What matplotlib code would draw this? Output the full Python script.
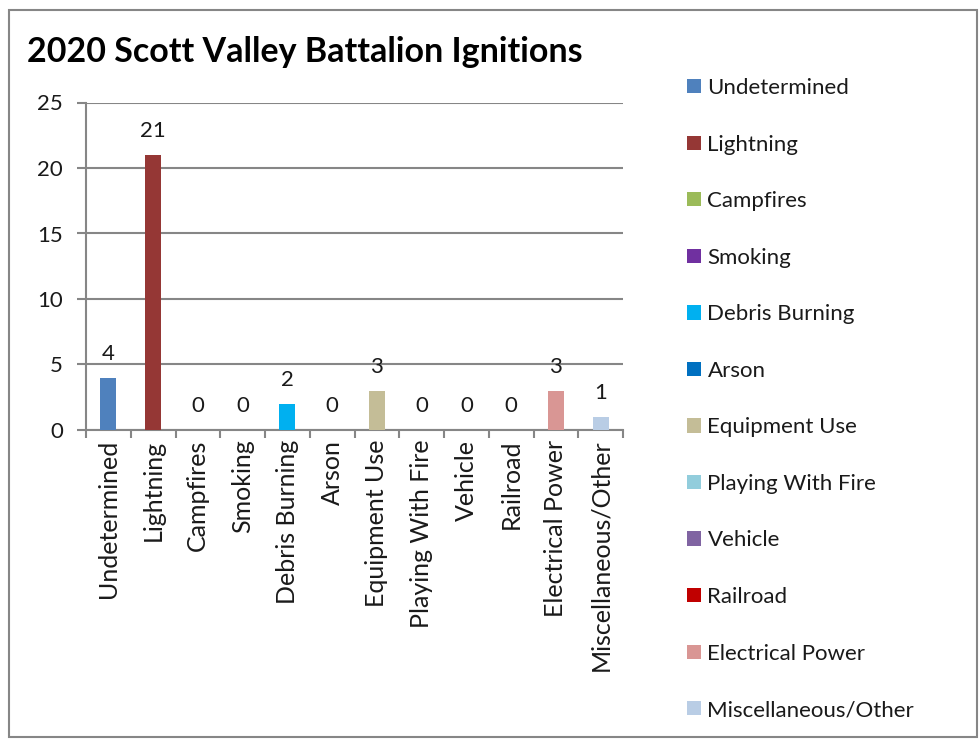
import matplotlib
matplotlib.use('Agg')
import matplotlib.pyplot as plt
from matplotlib.patches import Rectangle
import numpy as np

categories = ['Undetermined', 'Lightning', 'Campfires', 'Smoking', 'Debris Burning',
              'Arson', 'Equipment Use', 'Playing With Fire', 'Vehicle', 'Railroad',
              'Electrical Power', 'Miscellaneous/Other']
ignitions = [4, 21, 0, 0, 2, 0, 3, 0, 0, 0, 3, 1]
colors = ['#4F81BD', '#953735', '#9BBB59', '#7030A0', '#00B0F0', '#0070C0',
          '#C4BD97', '#92CDDC', '#8064A2', '#C00000', '#D99694', '#B9CDE5']
y_ticks = [0, 5, 10, 15, 20, 25]
title = '2020 Scott Valley Battalion Ignitions'

plt.rcParams['font.family'] = ['Lato', 'DejaVu Sans']
grey = '#868686'

fig = plt.figure(figsize=(9.8, 7.4), dpi=100)
# outer chart border
fig.patches.append(Rectangle((9 / 980, 3 / 740), 968 / 980, 727 / 740,
                             transform=fig.transFigure, fill=False,
                             edgecolor=grey, linewidth=1.5))

ax = fig.add_axes([86 / 980, 1 - 430 / 740, 537 / 980, 327.5 / 740])
x = np.arange(len(categories))
bars = ax.bar(x, ignitions, width=0.36, color=colors, linewidth=0, zorder=3)
ax.bar_label(bars, padding=10, fontsize=16, color='#1a1a1a')

ax.set_xlim(-0.5, len(categories) - 0.5)
ax.set_ylim(0, 25)
ax.set_yticks(y_ticks)
ax.set_xticks(x)
ax.set_xticklabels(categories, rotation=90, fontsize=18, color='#1a1a1a')
ax.set_xticks(np.arange(-0.5, len(categories)), minor=True)
ax.tick_params(axis='x', which='major', length=0, pad=7)
ax.tick_params(axis='x', which='minor', length=6, width=1.5, color=grey)
ax.tick_params(axis='y', length=6.5, width=1.5, color=grey, pad=10,
               labelsize=16, labelcolor='#1a1a1a')
ax.grid(axis='y', color=grey, linewidth=1.5, zorder=0)
for s in ['top', 'right']:
    ax.spines[s].set_visible(False)
for s in ['left', 'bottom']:
    ax.spines[s].set_color(grey)
    ax.spines[s].set_linewidth(1.5)

fig.text(27 / 980, 1 - 62 / 740, title, fontsize=24.5, fontweight='bold',
         va='baseline', ha='left', color='black')

fig.legend(bars.patches, categories, loc='upper left',
           bbox_to_anchor=(687 / 980, 1 - 78 / 740), frameon=False,
           fontsize=16, handlelength=0.62, handleheight=0.62,
           handletextpad=0.3, labelspacing=1.645, borderaxespad=0,
           borderpad=0, labelcolor='#1a1a1a')

fig.savefig('out.png', dpi=100)
